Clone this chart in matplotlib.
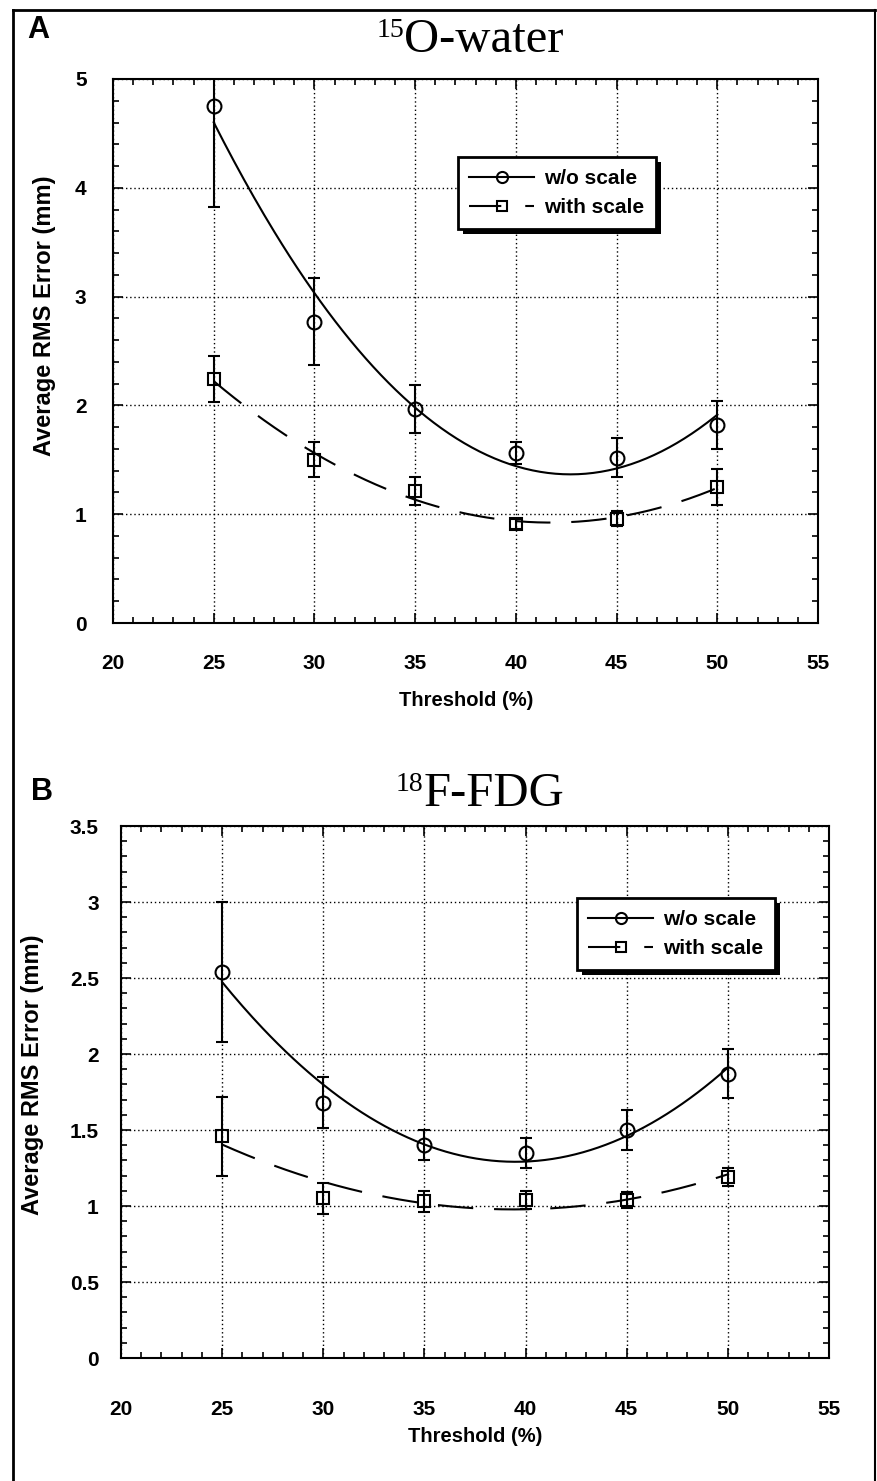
import numpy as np
import matplotlib
matplotlib.use("Agg")
import matplotlib.pyplot as plt
from matplotlib.lines import Line2D
from matplotlib import patheffects
from matplotlib.ticker import MultipleLocator

plt.rcParams['font.family'] = ['Liberation Sans', 'DejaVu Sans']

# ---------------- data ----------------
thresholds = [25, 30, 35, 40, 45, 50]

A_wo = [4.75, 2.77, 1.97, 1.56, 1.52, 1.82]
A_wo_err = [0.93, 0.40, 0.22, 0.10, 0.18, 0.22]
A_ws = [2.24, 1.50, 1.21, 0.91, 0.96, 1.25]
A_ws_err = [0.21, 0.16, 0.13, 0.05, 0.07, 0.17]

B_wo = [2.54, 1.68, 1.40, 1.35, 1.50, 1.87]
B_wo_err = [0.46, 0.17, 0.10, 0.10, 0.13, 0.16]
B_ws = [1.46, 1.05, 1.03, 1.04, 1.04, 1.19]
B_ws_err = [0.26, 0.10, 0.07, 0.06, 0.05, 0.06]

xticks = [20, 25, 30, 35, 40, 45, 50, 55]
A_yticks = [0, 1, 2, 3, 4, 5]
B_yticks = [0, 0.5, 1, 1.5, 2, 2.5, 3, 3.5]
B_yticklabels = ['0', '0.5', '1', '1.5', '2', '2.5', '3', '3.5']

label_wo = 'w/o scale'
label_ws = 'with scale'

W, H = 878, 1481
fig = plt.figure(figsize=(W / 100, H / 100), dpi=100)


def box(l, t, r, b):
    return [l / W, 1 - b / H, (r - l) / W, (b - t) / H]


def fx(px):
    return px / W


def fy(py):
    return 1 - py / H


# figure border
fig.add_artist(Line2D([fx(13), fx(13)], [fy(10), fy(1481)], color='k', lw=2))
fig.add_artist(Line2D([fx(13), fx(875)], [fy(10), fy(10)], color='k', lw=2))
fig.add_artist(Line2D([fx(875), fx(875)], [fy(10), fy(1481)], color='k', lw=1.5))

DASH = (17, 10)


def panel(ax, wo, wo_err, ws, ws_err, ylim, yticks, yticklabels, yminor,
          xpad, ypad, legend_center):
    x = np.array(thresholds, dtype=float)
    xs = np.linspace(25, 50, 200)
    c_wo = np.polyfit(x, wo, 2)
    c_ws = np.polyfit(x, ws, 2)
    ax.plot(xs, np.polyval(c_wo, xs), color='k', lw=1.5, zorder=3)
    ax.plot(xs, np.polyval(c_ws, xs), color='k', lw=1.5, dashes=DASH, zorder=3)
    ax.errorbar(x, wo, yerr=wo_err, fmt='o', ms=10, mfc='none', mec='k', mew=1.5,
                ecolor='k', elinewidth=1.5, capsize=4, capthick=1.5, zorder=4)
    ax.errorbar(x, ws, yerr=ws_err, fmt='s', ms=9, mfc='none', mec='k', mew=1.5,
                ecolor='k', elinewidth=1.5, capsize=4, capthick=1.5, zorder=4)
    ax.set_xlim(20, 55)
    ax.set_ylim(*ylim)
    ax.set_xticks(xticks)
    ax.set_xticklabels([str(t) for t in xticks])
    ax.set_yticks(yticks)
    ax.set_yticklabels(yticklabels)
    ax.xaxis.set_minor_locator(MultipleLocator(1))
    ax.yaxis.set_minor_locator(MultipleLocator(yminor))
    ax.tick_params(which='both', direction='in', top=True, right=True, width=1.2)
    ax.tick_params(which='major', length=7)
    ax.tick_params(which='minor', length=4)
    ax.tick_params(axis='x', which='major', pad=xpad)
    ax.tick_params(axis='y', which='major', pad=ypad)
    for lab in ax.get_xticklabels() + ax.get_yticklabels():
        lab.set_fontsize(15)
        lab.set_fontweight('bold')
    ax.grid(True, which='major', color='k', linestyle=(0, (1, 2)), lw=1.0)
    for s in ax.spines.values():
        s.set_linewidth(1.5)

    h1 = Line2D([], [], color='k', lw=1.5, marker='o', ms=8, mfc='none', mec='k', mew=1.5)
    h2 = Line2D([], [], color='k', lw=1.5, marker='s', ms=7, mfc='none', mec='k', mew=1.5,
                dashes=(15.5, 11.5))
    leg = ax.legend([h1, h2], [label_wo, label_ws], loc='center',
                    bbox_to_anchor=(fx(legend_center[0]), fy(legend_center[1])),
                    bbox_transform=fig.transFigure,
                    prop={'weight': 'bold', 'size': 15}, frameon=True, fancybox=False,
                    handlelength=3.1, handletextpad=0.5, borderpad=0.55, labelspacing=0.5)
    frame = leg.get_frame()
    frame.set_edgecolor('k')
    frame.set_linewidth(2)
    frame.set_facecolor('white')
    frame.set_alpha(1)
    frame.set_path_effects([patheffects.SimplePatchShadow(offset=(3.5, -3.5), shadow_rgbFace='k', alpha=1),
                            patheffects.Normal()])
    leg.set_zorder(10)


axA = fig.add_axes(box(113, 79, 818, 623))
panel(axA, A_wo, A_wo_err, A_ws, A_ws_err, (0, 5), A_yticks, [str(t) for t in A_yticks], 0.2,
      xpad=22, ypad=19, legend_center=(557, 193))

axB = fig.add_axes(box(121, 826, 829, 1358))
panel(axB, B_wo, B_wo_err, B_ws, B_ws_err, (0, 3.5), B_yticks, B_yticklabels, 0.1,
      xpad=30, ypad=16, legend_center=(676, 934))

# axis labels
fig.text(fx(466), fy(700), 'Threshold (%)', ha='center', va='center', fontsize=14.5, fontweight='bold')
fig.text(fx(475), fy(1436), 'Threshold (%)', ha='center', va='center', fontsize=14.5, fontweight='bold')
fig.text(fx(45), fy(316), 'Average RMS Error (mm)', ha='center', va='center', rotation=90,
         fontsize=17, fontweight='bold')
fig.text(fx(33), fy(1075), 'Average RMS Error (mm)', ha='center', va='center', rotation=90,
         fontsize=17, fontweight='bold')

# panel letters
fig.text(fx(38), fy(30), 'A', ha='center', va='center', fontsize=22, fontweight='bold')
fig.text(fx(42), fy(792), 'B', ha='center', va='center', fontsize=22, fontweight='bold')

# titles: small superscript mass number + main text, centred as a group
serif = ['Liberation Serif', 'DejaVu Serif']
renderer = fig.canvas.get_renderer()


def title(sup, main, cx, baseline):
    big, small = 35, 20
    t_sup = fig.text(0, fy(baseline), sup, fontsize=small, family=serif, va='baseline', ha='left')
    t_main = fig.text(0, fy(baseline), main, fontsize=big, family=serif, va='baseline', ha='left')
    w_sup = t_sup.get_window_extent(renderer).width
    w_main = t_main.get_window_extent(renderer).width
    left = cx - (w_sup + w_main) / 2
    cap_big = 0.662 * big * 100 / 72
    cap_small = 0.662 * small * 100 / 72
    t_sup.set_position((fx(left), fy(baseline - (cap_big - cap_small) - 1)))
    t_main.set_position((fx(left + w_sup), fy(baseline)))


title('15', 'O-water', 470, 52)
title('18', 'F-FDG', 480, 806)

fig.savefig('out.png', dpi=100)
